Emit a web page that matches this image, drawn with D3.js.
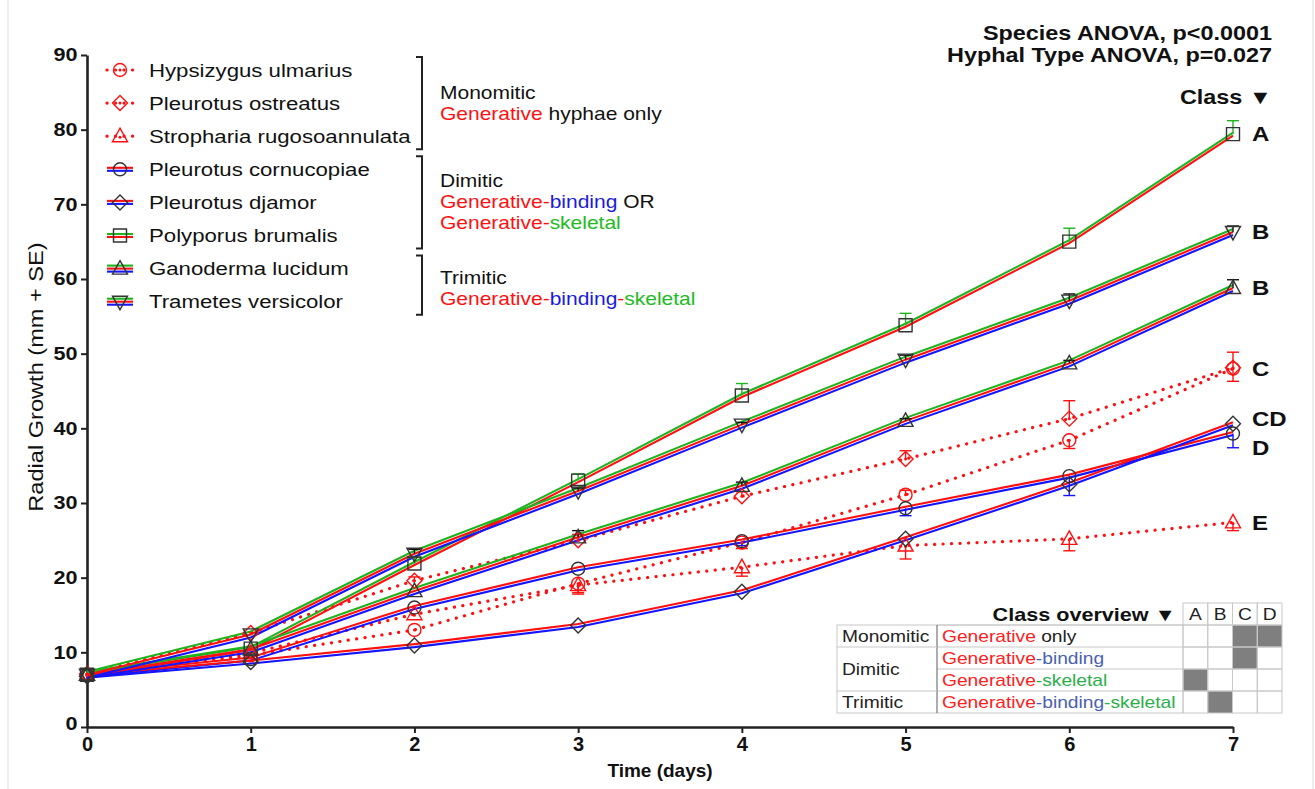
<!DOCTYPE html>
<html>
<head>
<meta charset="utf-8">
<script src="https://cdn.jsdelivr.net/npm/d3@7"></script>
<style>
body{margin:0;background:#fff;}
text{font-family:"Liberation Sans",Arial,sans-serif;}
</style>
</head>
<body>
<div id="main"></div>
<script>
// ---- data ----
var days = [0, 1, 2, 3, 4, 5, 6, 7];
var speciesNames = ["Hypsizygus ulmarius", "Pleurotus ostreatus", "Stropharia rugosoannulata",
                    "Pleurotus cornucopiae", "Pleurotus djamor", "Polyporus brumalis",
                    "Ganoderma lucidum", "Trametes versicolor"];
var hypsizygus  = [7.0, 9.6, 13.0, 19.2, 24.7, 31.1, 38.4, 48.0];
var ostreatus   = [7.1, 12.6, 19.6, 25.0, 30.9, 35.9, 41.3, 48.1];
var stropharia  = [7.0, 9.9, 15.1, 19.0, 21.4, 24.3, 25.2, 27.4];
var cornucopiae = [6.9, 9.1, 16.0, 21.2, 24.9, 29.3, 33.6, 39.3];
var djamor      = [6.8, 8.7, 10.9, 13.6, 18.1, 25.2, 32.5, 40.6];
var polyporus   = [7.0, 10.5, 21.9, 33.0, 44.4, 53.8, 65.0, 79.4];
var ganoderma   = [7.0, 10.4, 18.2, 25.4, 32.3, 41.0, 48.7, 58.8];
var trametes    = [7.0, 12.4, 23.2, 31.6, 40.5, 49.2, 57.1, 66.3];
// SE, signed: + bar drawn up, - bar drawn down, 0 = no bar visible
var seHypsizygus  = [0, 0, 0, -1.2, -0.8, 0.6, -1.1, -1.7];
var seOstreatus   = [0, 0, 0.5, 0.8, 0.6, 1.1, 2.4, 2.1];
var seStropharia  = [0, 0, 0, -1.2, -1.2, -1.8, -1.6, -1.1];
var seCornucopiae = [0, 0, 0, 0, -0.6, -1.0, -2.6, -1.9];
var seDjamor      = [0, 0, 0, 0, 0, 0, 0, 0];
var sePolyporus   = [0, 0, 0.8, 0.9, 1.6, 1.6, 1.8, 1.8];
var seGanoderma   = [0, 0, 0, 0.9, 0.5, 0.3, 0.4, 1.1];
var seTrametes    = [0, 0, 0.6, 0.4, 0.3, 0.6, 0.9, 0.8];

var yTicks = [0, 10, 20, 30, 40, 50, 60, 70, 80, 90];
var classLetters = ["A", "B", "B", "C", "CD", "D", "E"];
var classAt = [79.5, 66.3, 58.8, 48.0, 41.3, 37.4, 27.4];

var statLines = ["Species ANOVA, p<0.0001", "Hyphal Type ANOVA, p=0.027"];
var groupNames = ["Monomitic", "Dimitic", "Trimitic"];
var groupRows = [[0, 2], [3, 5], [6, 7]];

var overviewCols = ["A", "B", "C", "D"];
var overviewGroups = ["Monomitic", "Dimitic", "Trimitic"];
var overviewTypes = [
    [["Generative", "r"], [" only", "k"]],
    [["Generative", "r"], ["-binding", "b"]],
    [["Generative", "r"], ["-skeletal", "g"]],
    [["Generative", "r"], ["-binding", "b"], ["-skeletal", "g"]]
];
var overviewTypeGroup = [0, 1, 1, 2];
var overviewFill = [[0, 0, 1, 1], [0, 0, 1, 0], [1, 0, 0, 0], [0, 1, 0, 0]];

// ---- styling ----
var ctx = {
    w: 1315,
    h: 789,
    x0: 87, x1: 1233,
    y0: 727, y1: 55,
    RED: "#ff1010",
    BLUE: "#1414ff",
    GREEN: "#1fb41f",
    lineGap: 3,
    sx: 1.2,      // the original figure is stretched sideways
};
var lineCols = {r: ctx.RED, b: ctx.BLUE, g: ctx.GREEN, k: "#111"};
var tableCols = {r: "#ff2020", b: "#4a62b0", g: "#2aae4a", k: "#222"};

var series = [
    {name: speciesNames[0], vals: hypsizygus,  se: seHypsizygus,  mark: "circle",   dotted: true,  colors: ["r"], err: "r"},
    {name: speciesNames[1], vals: ostreatus,   se: seOstreatus,   mark: "diamond",  dotted: true,  colors: ["r"], err: "r"},
    {name: speciesNames[2], vals: stropharia,  se: seStropharia,  mark: "triangle", dotted: true,  colors: ["r"], err: "r"},
    {name: speciesNames[3], vals: cornucopiae, se: seCornucopiae, mark: "circle",   dotted: false, colors: ["r", "b"], err: "b"},
    {name: speciesNames[4], vals: djamor,      se: seDjamor,      mark: "diamond",  dotted: false, colors: ["r", "b"], err: "b"},
    {name: speciesNames[5], vals: polyporus,   se: sePolyporus,   mark: "square",   dotted: false, colors: ["g", "r"], err: "g"},
    {name: speciesNames[6], vals: ganoderma,   se: seGanoderma,   mark: "triangle", dotted: false, colors: ["g", "r", "b"], err: "k"},
    {name: speciesNames[7], vals: trametes,    se: seTrametes,    mark: "tridown",  dotted: false, colors: ["g", "r", "b"], err: "k"}
];

// text placed at (x,y) and widened like the source figure
var sText = function(g, x, y, size, bold){
    return g.append("text")
        .attr("transform", "translate(" + x + "," + y + ") scale(" + ctx.sx + ",1)")
        .attr("font-size", size).attr("font-weight", bold ? "bold" : null)
        .attr("fill", "#111");
};

var markerPath = function(type){
    var p = d3.path();
    if (type == "circle"){
        p.arc(0, 0, 6.5, 0, 2 * Math.PI);
    } else if (type == "square"){
        p.rect(-6.5, -6.5, 13, 13);
    } else if (type == "diamond"){
        p.moveTo(0, -7.5); p.lineTo(7.5, 0); p.lineTo(0, 7.5); p.lineTo(-7.5, 0); p.closePath();
    } else if (type == "triangle"){
        p.moveTo(0, -8); p.lineTo(7.5, 5.5); p.lineTo(-7.5, 5.5); p.closePath();
    } else {
        p.moveTo(0, 8); p.lineTo(7.5, -5.5); p.lineTo(-7.5, -5.5); p.closePath();
    }
    return p.toString();
};

var drawMarker = function(g, s, x, y){
    var stroke = s.dotted ? ctx.RED : "#333";
    g.append("path").attr("d", markerPath(s.mark))
     .attr("transform", "translate(" + x + "," + y + ")")
     .attr("fill", "none").attr("stroke", stroke).attr("stroke-width", 1.4);
    if (s.dotted){
        g.append("circle").attr("cx", x).attr("cy", y + (s.mark == "triangle" ? 1 : 0))
         .attr("r", 1.5).attr("fill", ctx.RED);
    }
};

var drawLines = function(g, s, pts){
    var n = s.colors.length;
    s.colors.forEach(function(c, k){
        var off = (k - (n - 1) / 2) * ctx.lineGap;
        var line = d3.line().x(d => d[0]).y(d => d[1] + off);
        var el = g.append("path").attr("d", line(pts))
            .attr("fill", "none").attr("stroke", lineCols[c]);
        if (s.dotted){
            el.attr("stroke-width", 3.2).attr("stroke-linecap", "round")
              .attr("stroke-dasharray", "0.1,8.4");
        } else {
            el.attr("stroke-width", 2.1);
        }
    });
};

var createChart = function(svg){
    var x = d3.scaleLinear().domain([0, 7]).range([ctx.x0, ctx.x1]);
    var y = d3.scaleLinear().domain([0, 90]).range([ctx.y0, ctx.y1]);

    // frame of the original figure
    svg.append("line").attr("x1", 8).attr("x2", 8).attr("y1", 0).attr("y2", ctx.h)
       .attr("stroke", "#ddd");
    svg.append("line").attr("x1", 1313).attr("x2", 1313).attr("y1", 0).attr("y2", ctx.h)
       .attr("stroke", "#ddd");

    // axes
    var yAxis = svg.append("g").attr("transform", "translate(" + ctx.x0 + ",0)")
        .call(d3.axisLeft(y).tickValues(yTicks).tickSize(6).tickSizeOuter(0).tickPadding(2));
    var xAxis = svg.append("g").attr("transform", "translate(0," + ctx.y0 + ")")
        .call(d3.axisBottom(x).tickValues(days).tickFormat(d3.format("d"))
              .tickSize(6).tickSizeOuter(0).tickPadding(4));
    [xAxis, yAxis].forEach(function(a){
        a.select(".domain").attr("stroke", "#222").attr("stroke-width", 2.6);
        a.selectAll(".tick line").attr("stroke", "#222").attr("stroke-width", 2);
        a.selectAll(".tick text").attr("font-family", "Liberation Sans, Arial, sans-serif")
         .attr("font-weight", "bold").attr("fill", "#111");
    });
    yAxis.selectAll(".tick text").attr("font-size", 18)
         .attr("transform", "scale(" + ctx.sx + ",1)");
    yAxis.selectAll(".tick text").filter(d => d == 0).attr("dy", "0.15em");
    xAxis.selectAll(".tick text").attr("font-size", 20)
         .attr("font-family", "Liberation Sans Narrow, Liberation Sans, Arial, sans-serif");

    svg.append("text").attr("x", (ctx.x0 + ctx.x1) / 2).attr("y", 777)
       .attr("text-anchor", "middle").attr("font-weight", "bold").attr("font-size", 19)
       .attr("font-family", "Liberation Sans Narrow, Liberation Sans, Arial, sans-serif")
       .attr("fill", "#111").text("Time (days)");
    svg.append("text").attr("transform", "translate(43,377) rotate(-90) scale(1.18,1)")
       .attr("text-anchor", "middle").attr("font-size", 20).attr("fill", "#111")
       .text("Radial Growth  (mm + SE)");

    // series
    var gLines = svg.append("g");
    var gErr = svg.append("g");
    var gMark = svg.append("g");
    series.forEach(function(s){
        var pts = days.map((d, i) => [x(d), y(s.vals[i])]);
        drawLines(gLines, s, pts);
        days.forEach(function(d, i){
            var se = s.se[i];
            if (se != 0){
                var ya = y(s.vals[i]), yb = y(s.vals[i] + se);
                gErr.append("line").attr("x1", x(d)).attr("x2", x(d)).attr("y1", ya).attr("y2", yb)
                    .attr("stroke", lineCols[s.err]).attr("stroke-width", 1.4);
                gErr.append("line").attr("x1", x(d) - 6).attr("x2", x(d) + 6).attr("y1", yb).attr("y2", yb)
                    .attr("stroke", lineCols[s.err]).attr("stroke-width", 1.4);
            }
            drawMarker(gMark, s, x(d), y(s.vals[i]));
        });
    });

    // class letters
    classLetters.forEach(function(c, i){
        sText(svg, x(7) + 19, y(classAt[i]) + 7.5, 20, true).text(c);
    });

    // stats + Class header
    statLines.forEach(function(t, i){
        sText(svg, 1272, 40 + i * 22, 19.5, true).attr("text-anchor", "end").text(t);
    });
    sText(svg, 1272, 104, 19.5, true).attr("text-anchor", "end").text("Class ▼");

    createLegend(svg);
    createOverview(svg);
};

var createLegend = function(svg){
    var g = svg.append("g");
    var rowY = d => 70 + d * 33.1;
    series.forEach(function(s, i){
        var cy = rowY(i);
        drawLines(g, s, [[107, cy], [133, cy]]);
        drawMarker(g, s, 120, cy);
        sText(g, 149, cy + 6.5, 18.5, false).text(s.name);
    });
    var groupText = [
        [[["Monomitic", "k"]], [["Generative", "r"], [" hyphae only", "k"]]],
        [[["Dimitic", "k"]], [["Generative-", "r"], ["binding", "b"], [" OR", "k"]],
         [["Generative-", "r"], ["skeletal", "g"]]],
        [[["Trimitic", "k"]], [["Generative-", "r"], ["binding", "b"], ["-", "r"], ["skeletal", "g"]]]
    ];
    var textColors = {r: ctx.RED, b: "#1a1ae0", g: "#22bb22", k: "#111"};
    groupRows.forEach(function(r, i){
        var top = rowY(r[0]) - 13, bot = rowY(r[1]) + 13;
        g.append("path").attr("d", "M416," + top + "H422V" + bot + "H416")
         .attr("fill", "none").attr("stroke", "#222").attr("stroke-width", 2);
        var lines = groupText[i];
        var mid = (top + bot) / 2 - (i == 2 ? -3 : 0);
        lines.forEach(function(parts, j){
            var t = sText(g, 440, mid + (j - (lines.length - 1) / 2) * 21 + 6, 17.5, false);
            parts.forEach(function(p){
                t.append("tspan").attr("fill", textColors[p[1]]).text(p[0]);
            });
        });
    });
};

var createOverview = function(svg){
    var g = svg.append("g");
    var left = 837, split = 937, colX = d3.scaleBand().domain(overviewCols).range([1183, 1282]);
    var rowY = d3.scaleBand().domain(d3.range(overviewTypes.length)).range([625, 713]);
    var grid = "#c8c8c8";
    // filled cells
    overviewFill.forEach(function(row, i){
        row.forEach(function(v, j){
            if (v) g.append("rect").attr("x", colX(overviewCols[j])).attr("y", rowY(i))
                    .attr("width", colX.bandwidth()).attr("height", rowY.bandwidth())
                    .attr("fill", "#7f7f7f");
        });
    });
    // header cells
    overviewCols.forEach(function(c){
        g.append("rect").attr("x", colX(c)).attr("y", 603).attr("width", colX.bandwidth())
         .attr("height", 22).attr("fill", "none").attr("stroke", grid);
        sText(g, colX(c) + colX.bandwidth() / 2, 620, 16, false).attr("text-anchor", "middle")
         .attr("fill", "#222").text(c);
    });
    // body grid
    overviewTypes.forEach(function(t, i){
        overviewCols.forEach(function(c){
            g.append("rect").attr("x", colX(c)).attr("y", rowY(i)).attr("width", colX.bandwidth())
             .attr("height", rowY.bandwidth()).attr("fill", "none").attr("stroke", grid);
        });
        var tx = sText(g, split + 5, rowY(i) + 17, 16, false);
        t.forEach(function(p){
            tx.append("tspan").attr("fill", tableCols[p[1]]).text(p[0]);
        });
        g.append("line").attr("x1", split).attr("x2", 1183).attr("y1", rowY(i)).attr("y2", rowY(i))
         .attr("stroke", grid);
    });
    g.append("rect").attr("x", left).attr("y", 625).attr("width", 1183 - left).attr("height", 88)
     .attr("fill", "none").attr("stroke", grid);
    g.append("line").attr("x1", split).attr("x2", split).attr("y1", 625).attr("y2", 713)
     .attr("stroke", "#777").attr("stroke-width", 1.2);
    overviewGroups.forEach(function(name, k){
        var rows = overviewTypeGroup.map((d, i) => d == k ? i : -1).filter(i => i >= 0);
        var top = rowY(rows[0]), bot = rowY(rows[rows.length - 1]) + rowY.bandwidth();
        if (k > 0) g.append("line").attr("x1", left).attr("x2", split).attr("y1", top).attr("y2", top)
                    .attr("stroke", grid);
        sText(g, left + 5, (top + bot) / 2 + 6, 16, false).attr("fill", "#222").text(name);
    });
    sText(g, 1176, 621, 18, true).attr("text-anchor", "end").text("Class overview ▼");
};

var createViz = function(){
    var svgEl = d3.select("#main").append("svg")
        .attr("width", ctx.w).attr("height", ctx.h);
    createChart(svgEl);
};
createViz();
</script>
</body>
</html>
